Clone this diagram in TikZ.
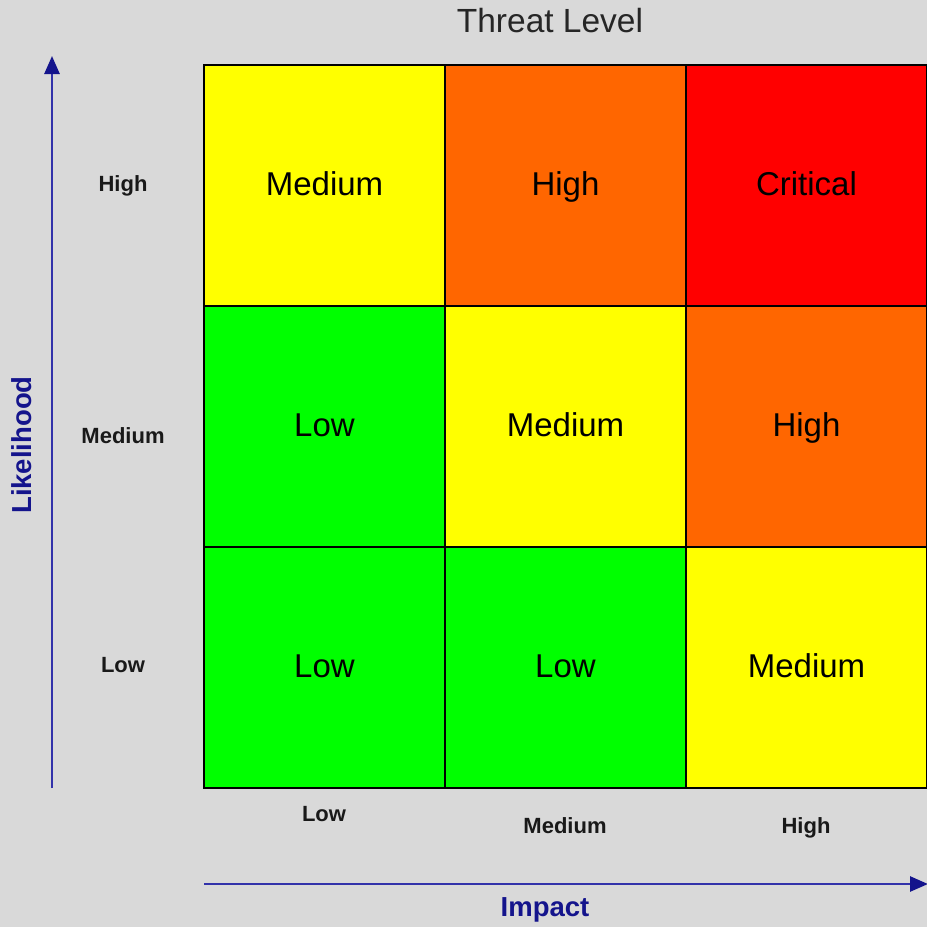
\documentclass[tikz,border=0pt]{standalone}
\usepackage{fontspec}
\setmainfont{Liberation Sans}
\usetikzlibrary{arrows.meta}
\definecolor{bg}{RGB}{217,217,217}
\definecolor{cyel}{RGB}{255,255,0}
\definecolor{corg}{RGB}{255,102,0}
\definecolor{cred}{RGB}{255,0,0}
\definecolor{cgrn}{RGB}{0,255,0}
\definecolor{axisblue}{RGB}{50,50,170}
\definecolor{navy}{RGB}{20,20,140}
\tikzset{
  cell/.style={draw=black, line width=2pt, minimum width=241pt, minimum height=241pt, inner sep=0pt, font=\fontsize{33}{35}\selectfont, text=black, text height=26pt, text depth=6pt},
  tick/.style={font=\bfseries\fontsize{22}{24}\selectfont, text=black!90, text height=18pt, text depth=4pt},
  axislabel/.style={font=\bfseries\fontsize{27.5}{29}\selectfont, text=navy},
  axisarrow/.style={draw=axisblue, line width=2.6pt, -{Triangle[length=18pt,width=15pt,fill=navy,color=navy]}},
}
\begin{document}
\begin{tikzpicture}[x=1pt,y=-1pt]
\useasboundingbox[fill=bg] (0,0) rectangle (927,927);
% cells
\node[cell, fill=cyel] (c11) at (324.5,185.5) {Medium};
\node[cell, fill=corg] (c12) at (565.5,185.5) {High};
\node[cell, fill=cred] (c13) at (806.5,185.5) {Critical};
\node[cell, fill=cgrn] (c21) at (324.5,426.5) {Low};
\node[cell, fill=cyel] (c22) at (565.5,426.5) {Medium};
\node[cell, fill=corg] (c23) at (806.5,426.5) {High};
\node[cell, fill=cgrn] (c31) at (324.5,667.5) {Low};
\node[cell, fill=cgrn] (c32) at (565.5,667.5) {Low};
\node[cell, fill=cyel] (c33) at (806.5,667.5) {Medium};
% title
\node[font=\fontsize{33.5}{35}\selectfont, text=black!85, text height=26pt, text depth=6pt] (title) at (550,22) {Threat Level};
% tick labels
\node[tick] (yh) at (123,184) {High};
\node[tick] (ym) at (123,436) {Medium};
\node[tick] (yl) at (123,665) {Low};
\node[tick] (xl) at (324,814) {Low};
\node[tick] (xm) at (565,826) {Medium};
\node[tick] (xh) at (806,826) {High};
% axes
\coordinate (ys) at (52,788);
\coordinate (ye) at (52,56);
\coordinate (xs) at (204,884);
\coordinate (xe) at (928,884);
\draw[axisarrow] (ys) -- (ye);
\draw[axisarrow] (xs) -- (xe);
\node[axislabel, rotate=90] (ylab) at (22,445) {Likelihood};
\node[axislabel] (xlab) at (545,910) {Impact};
\end{tikzpicture}
\end{document}
